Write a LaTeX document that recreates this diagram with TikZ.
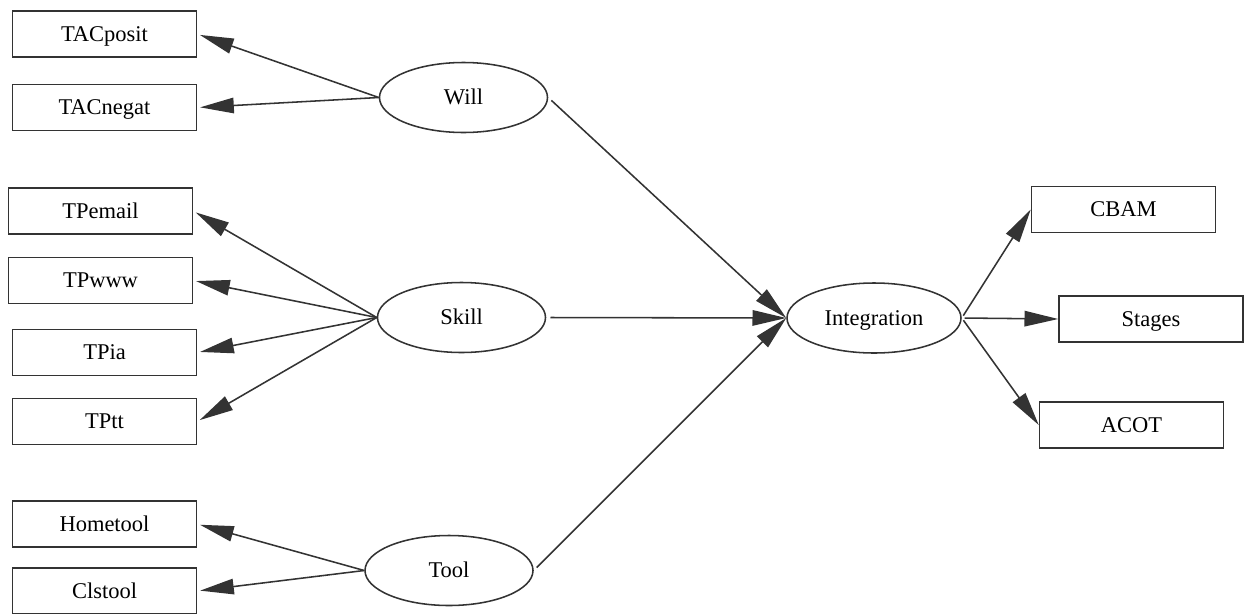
\documentclass[tikz,border=0pt]{standalone}
\usepackage{fontspec}
\setmainfont{Liberation Serif}
\usetikzlibrary{arrows.meta,shapes.geometric}
\definecolor{linegray}{HTML}{333333}

\begin{document}
\begin{tikzpicture}[x=0.25cm,y=0.25cm,
		every node/.style={font=\fontsize{16}{19}\selectfont, text=black, inner sep=0pt, text height=10.6pt, text depth=0pt},
		box/.style={draw=linegray, line width=1.1pt, rectangle, minimum width=4.6cm, minimum height=1.15cm},
		factor/.style={draw=linegray, line width=1.1pt, ellipse, minimum width=4.2cm, minimum height=1.75cm},
		arrowline/.style={draw=linegray, line width=1.1pt, -{Triangle[length=24pt,width=11pt]}, shorten >=2pt}]
	\useasboundingbox (0,0) rectangle (124.4,-61.3);
	% left boxes
	\node [box] (tacposit) at (10.45,-3.4) {TACposit};
	\node [box] (tacnegat) at (10.45,-10.75) {TACnegat};
	\node [box] (tpemail) at (10.05,-21.1) {TPemail};
	\node [box] (tpwww) at (10.05,-28.05) {TPwww};
	\node [box] (tpia) at (10.45,-35.25) {TPia};
	\node [box] (tptt) at (10.45,-42.15) {TPtt};
	\node [box] (hometool) at (10.45,-52.4) {Hometool};
	\node [box] (clstool) at (10.45,-59.1) {Clstool};
	% factors
	\node [factor] (will) at (46.35,-9.75) {Will};
	\node [factor] (skill) at (46.15,-31.75) {Skill};
	\node [factor] (tool) at (44.9,-57.05) {Tool};
	\node [factor, minimum width=4.35cm] (integ) at (87.4,-31.8) {Integration};
	% right boxes
	\node [box] (cbam) at (112.35,-20.95) {CBAM};
	\node [box] (stages) at (115.1,-31.9) {Stages};
	\node [box] (acot) at (113.15,-42.5) {ACOT};
	% edges
	\draw [arrowline] (will.west) -- (tacposit.east);
	\draw [arrowline] (will.west) -- (tacnegat.east);
	\draw [arrowline] (skill.west) -- (tpemail.east);
	\draw [arrowline] (skill.west) -- (tpwww.east);
	\draw [arrowline] (skill.west) -- (tpia.east);
	\draw [arrowline] (skill.west) -- (tptt.east);
	\draw [arrowline] (tool.west) -- (hometool.east);
	\draw [arrowline] (tool.west) -- (clstool.east);
	\draw [arrowline, shorten <=3pt, shorten >=0pt] (will.east) -- (integ.west);
	\draw [arrowline, shorten <=3pt, shorten >=0pt] (skill.east) -- (integ.west);
	\draw [arrowline, shorten <=3pt, shorten >=0pt] (tool.east) -- (integ.west);
	\draw [arrowline, shorten <=2pt, shorten >=0pt] (integ.east) -- (cbam.west);
	\draw [arrowline, shorten <=2pt, shorten >=0pt] (integ.east) -- (stages.west);
	\draw [arrowline, shorten <=2pt, shorten >=0pt] (integ.east) -- (acot.west);
\end{tikzpicture}
\end{document}
